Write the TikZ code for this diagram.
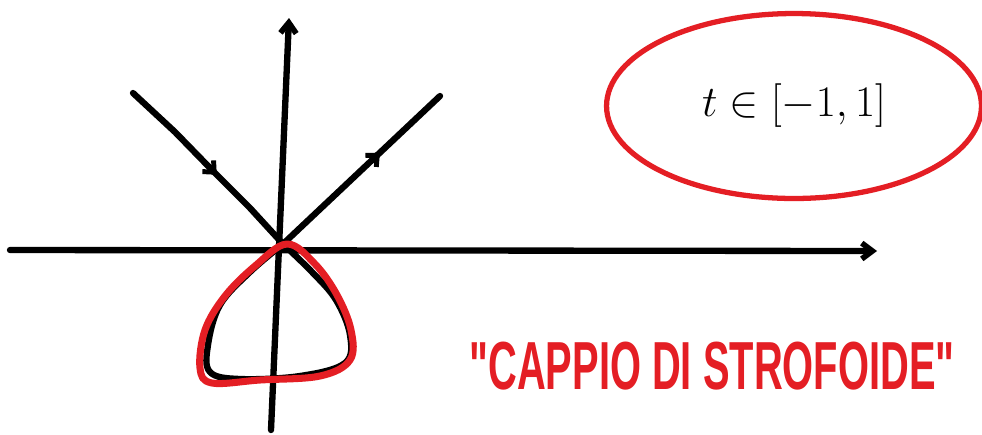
\documentclass[tikz,border=0pt]{standalone}
\usepackage{fontspec}
\usepackage{graphicx}
\usetikzlibrary{arrows.meta, positioning, shapes.geometric, decorations.markings}
\newfontfamily\handfont{Liberation Sans}
\definecolor{penred}{RGB}{228,30,36}

\begin{document}
\begin{tikzpicture}[
    x=0.02cm, y=-0.02cm,
    axis/.style={line width=3.6pt, line cap=round, -{Straight Barb[length=6pt, width=9pt, line width=3.2pt]}},
    curve/.style={line width=3.6pt, line cap=round, line join=round},
    mark/.style={curve, postaction={decorate}, decoration={markings,
                 mark=at position #1 with {\arrow[line width=2.8pt]{Straight Barb[length=5pt, width=9pt]}}}},
    loop/.style={draw=penred, line width=4pt, line join=round},
    param/.style={ellipse, draw=penred, line width=3pt, minimum width=7.5cm, minimum height=3.7cm, font=\fontsize{30}{32}\selectfont},
    title/.style={text=penred, inner sep=0pt, font=\handfont\bfseries}
]
\useasboundingbox (0,0) rectangle (982,434);

% axes
\coordinate (xL) at (10,250);
\coordinate (xR) at (877,251);
\coordinate (yB) at (271,430);
\coordinate (yT) at (289,18);
\draw[axis] (xL) -- (xR);
\draw[axis] (yB) -- (yT);

% strophoid
\coordinate (O) at (283,244);
\coordinate (A) at (133,93);
\coordinate (B) at (440,96);
\draw[mark=0.55] (A) -- (175,132) -- (212,170) -- (250,208) -- (O);
\draw[curve] plot[smooth, tension=0.6] coordinates {(283,244) (312,272) (336,300) (350,335) (345,363) (300,376) (240,379) (210,372) (208,345) (220,305) (250,272) (283,244)};
\draw[mark=0.62] (O) -- (B);

% loop
\draw[loop] plot[smooth cycle, tension=0.6] coordinates {(287,244) (315,264) (337,295) (351,330) (350,360) (320,376) (260,380) (212,383) (200,368) (205,330) (225,296) (255,266)};

% labels
\node[param] (range) at (794,106) {$t\in[-1,1]$};
\node[title] (name) at (712,366) {\resizebox{9.7cm}{0.95cm}{"CAPPIO DI STROFOIDE"}};
\end{tikzpicture}
\end{document}
